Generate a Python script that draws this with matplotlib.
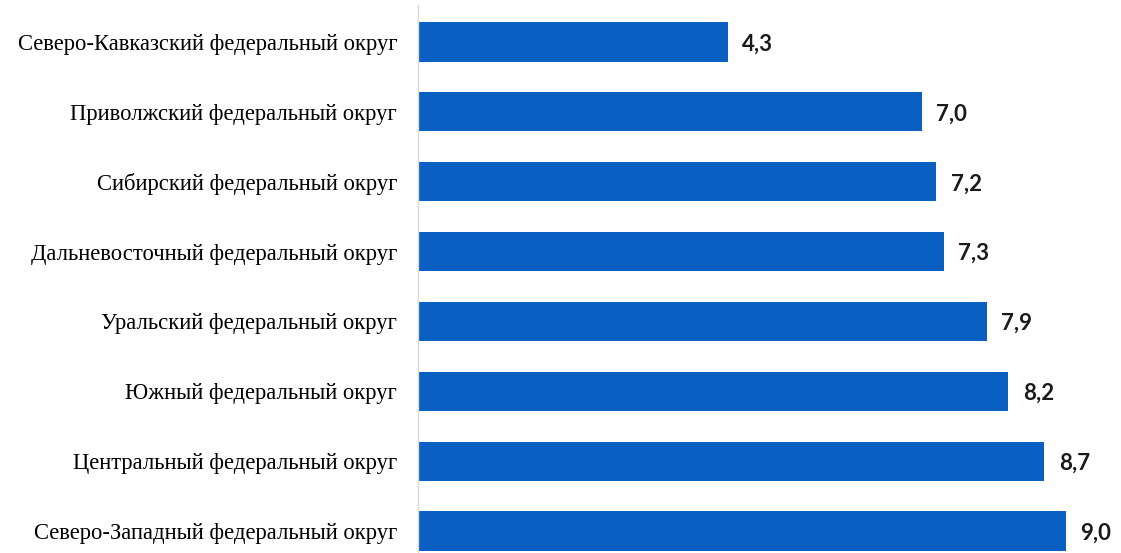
import matplotlib

matplotlib.use("Agg")

import matplotlib.pyplot as plt


REGIONS = [
    "Северо-Кавказский федеральный округ",
    "Приволжский федеральный округ",
    "Сибирский федеральный округ",
    "Дальневосточный федеральный округ",
    "Уральский федеральный округ",
    "Южный федеральный округ",
    "Центральный федеральный округ",
    "Северо-Западный федеральный округ",
]
VALUES = [4.3, 7.0, 7.2, 7.3, 7.9, 8.2, 8.7, 9.0]

BAR_COLOR = "#0A5FC2"


def main() -> None:
    fig = plt.figure(figsize=(11.21, 5.53), dpi=100)
    ax = fig.add_axes([418 / 1121, 0, 1 - 418 / 1121, 548 / 553])

    positions = list(range(len(REGIONS)))
    ax.barh(positions, VALUES, height=0.56, color=BAR_COLOR)

    for pos, value in zip(positions, VALUES):
        ax.text(
            value + 0.2,
            pos + 0.03,
            f"{value:.1f}".replace(".", ","),
            va="center",
            ha="left",
            fontsize=16,
            family="Lato",
            weight="bold",
            color="#1A1A1A",
        )

    ax.set_yticks(positions)
    ax.set_yticklabels(REGIONS, family="Liberation Serif", fontsize=16.3, color="#000000")
    for label in ax.get_yticklabels():
        label.set_y(label.get_position()[1])
    ax.tick_params(axis="y", length=0, pad=15)
    ax.set_xticks([])

    ax.set_xlim(0, (1121 - 418) / 72)
    ax.set_ylim(7.315, -0.53)

    for side in ["top", "right", "bottom"]:
        ax.spines[side].set_visible(False)
    ax.spines["left"].set_color("#D9D9D9")
    ax.spines["left"].set_linewidth(1.0)

    fig.savefig("out.png", dpi=100)
    plt.close(fig)


if __name__ == "__main__":
    main()
